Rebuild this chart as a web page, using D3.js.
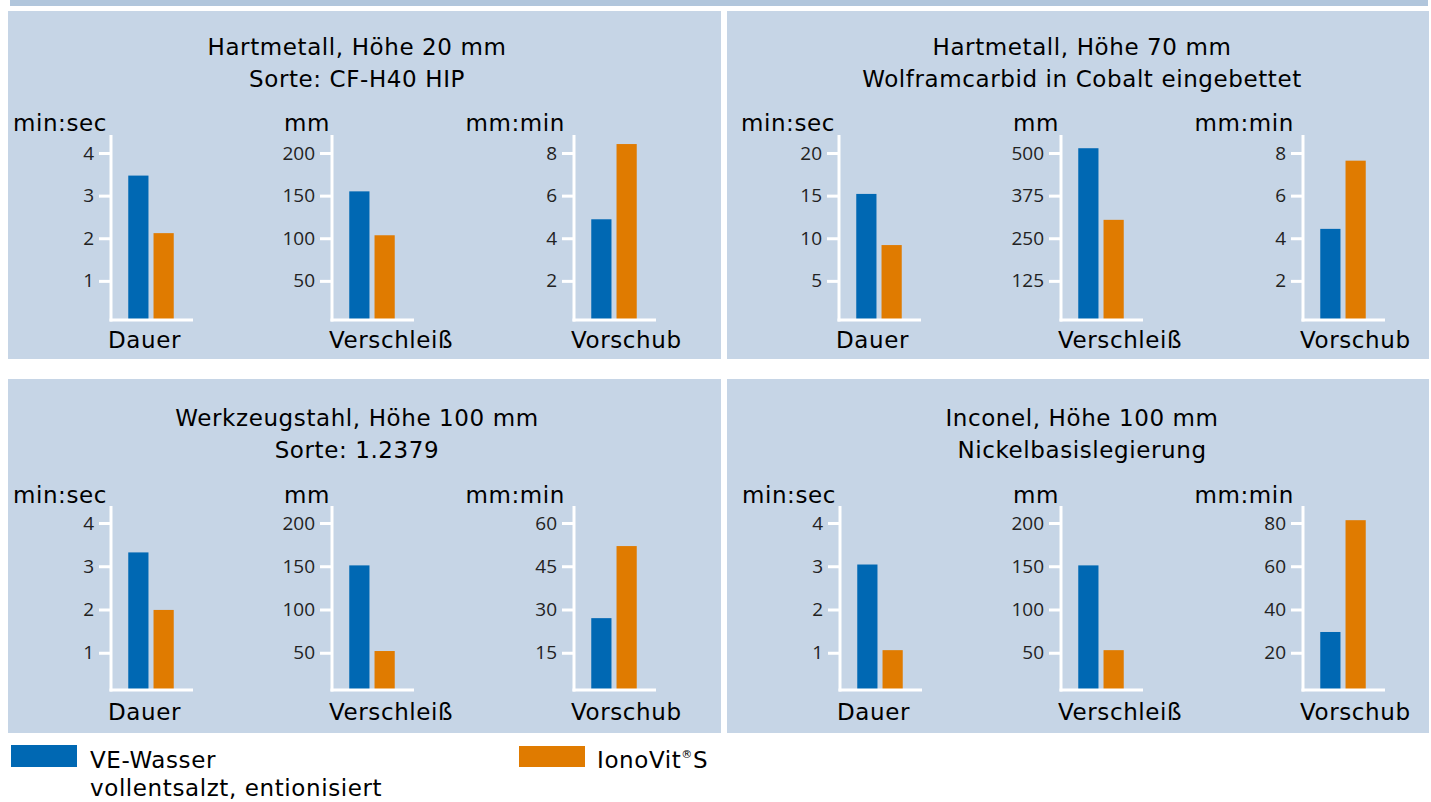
<html>
  <head>
    <meta charset="utf-8">
    <script src="https://d3js.org/d3.v7.min.js"></script>
    <style>
      body { margin: 0; background: #fff; }
      text { font-family: "DejaVu Sans", sans-serif; letter-spacing: 0.6px; }
      .tick text { font-family: "Open Sans", "Noto Sans", sans-serif; letter-spacing: 0; }
    </style>
  </head>
  <body>
    <svg id="vis"></svg>
  </body>
  <script>
    // chart data
    var categories = ["Dauer", "Verschleiß", "Vorschub"]
    var units = ["min:sec", "mm", "mm:min"]
    var panelTitles = [
      ["Hartmetall, Höhe 20 mm", "Sorte: CF-H40 HIP"],
      ["Hartmetall, Höhe 70 mm", "Wolframcarbid in Cobalt eingebettet"],
      ["Werkzeugstahl, Höhe 100 mm", "Sorte: 1.2379"],
      ["Inconel, Höhe 100 mm", "Nickelbasislegierung"]
    ]
    var tickValues = [
      [[1, 2, 3, 4], [50, 100, 150, 200], [2, 4, 6, 8]],
      [[5, 10, 15, 20], [125, 250, 375, 500], [2, 4, 6, 8]],
      [[1, 2, 3, 4], [50, 100, 150, 200], [15, 30, 45, 60]],
      [[1, 2, 3, 4], [50, 100, 150, 200], [20, 40, 60, 80]]
    ]
    var veWasser = [
      [3.47, 155, 4.89],
      [15.2, 514, 4.44],
      [3.32, 151, 27],
      [3.04, 151, 29.6]
    ]
    var ionoVit = [
      [2.12, 103.5, 8.42],
      [9.2, 304, 7.64],
      [1.99, 52, 52],
      [1.06, 53, 81.3]
    ]
    var seriesNames = ["VE-Wasser", "IonoVit"]
    var colors = ["#0068b3", "#e07b00"]

    var width = 1431, height = 802
    var svg = d3.select("#vis").attr("width", width).attr("height", height)

    // top strip
    svg.append("rect").attr("x", 10).attr("y", 0).attr("width", 1418).attr("height", 6).attr("fill", "#b1c6dc")

    // panel layout
    var panels = [
      {x: 8, y: 11, w: 713, h: 348, row: 0, axes: [111, 332, 574], cx: 357},
      {x: 727, y: 11, w: 702, h: 348, row: 0, axes: [839, 1061, 1303], cx: 1082},
      {x: 8, y: 379, w: 713, h: 354, row: 1, axes: [111, 332, 574], cx: 357},
      {x: 727, y: 379, w: 702, h: 354, row: 1, axes: [840, 1061, 1303], cx: 1082}
    ]
    var rows = [
      {title: 55, unit: 131, axisTop: 135, topTick: 153, zero: 323.5, base: 320, cat: 348},
      {title: 426, unit: 503, axisTop: 506, topTick: 523, zero: 696, base: 690, cat: 720}
    ]
    var unitShift = [4, 2, 9]

    panels.forEach(function(p, pi) {
      var r = rows[p.row]
      var g = svg.append("g")
      g.append("rect").attr("x", p.x).attr("y", p.y).attr("width", p.w).attr("height", p.h).attr("fill", "#c6d5e6")

      g.selectAll("text.title").data(panelTitles[pi]).enter()
        .append("text").attr("class", "title")
        .attr("x", p.cx).attr("y", function(d, i){ return r.title + i * 32 })
        .attr("text-anchor", "middle").attr("font-size", 23).attr("fill", "#000")
        .text(function(d){ return d })

      categories.forEach(function(cat, ci) {
        var ax = p.axes[ci]
        var ticks = tickValues[pi][ci]
        var y = d3.scaleLinear().domain([0, ticks[ticks.length - 1]]).range([r.zero, r.topTick])
        var x = d3.scaleBand().domain(seriesNames).range([ax + 16, ax + 64]).paddingInner(0.2).paddingOuter(0.05)

        var c = g.append("g")

        // y axis
        var yAxis = c.append("g")
          .attr("transform", "translate(" + ax + ",0)")
          .call(d3.axisLeft(y).tickValues(ticks).tickSize(12).tickPadding(5).tickFormat(d3.format("d")))
        yAxis.attr("font-family", null)
        yAxis.select(".domain").remove()
        yAxis.selectAll(".tick line").attr("stroke", "#fff").attr("stroke-width", 3)
        yAxis.selectAll(".tick text").attr("font-size", 19).attr("fill", "#222")

        // bars
        var vals = [veWasser[pi][ci], ionoVit[pi][ci]]
        c.selectAll("rect.bar").data(vals).enter()
          .append("rect").attr("class", "bar")
          .attr("x", function(d, i){ return x(seriesNames[i]) })
          .attr("width", x.bandwidth())
          .attr("y", function(d){ return y(d) })
          .attr("height", function(d){ return r.base - y(d) })
          .attr("fill", function(d, i){ return colors[i] })

        // axis lines
        c.append("line").attr("x1", ax).attr("x2", ax).attr("y1", r.axisTop).attr("y2", r.base + 1.5)
          .attr("stroke", "#fff").attr("stroke-width", 3)
        c.append("line").attr("x1", ax - 1.5).attr("x2", ax + 82).attr("y1", r.base).attr("y2", r.base)
          .attr("stroke", "#fff").attr("stroke-width", 3)

        // unit label
        c.append("text").attr("x", ax - unitShift[ci]).attr("y", r.unit)
          .attr("text-anchor", "end").attr("font-size", 23).attr("fill", "#000")
          .text(units[ci])

        // category label
        c.append("text").attr("x", ax - 3).attr("y", r.cat)
          .attr("font-size", 23).attr("fill", "#000")
          .text(cat)
      })
    })

    // legend
    var legend = svg.append("g")
    legend.append("rect").attr("x", 11).attr("y", 745).attr("width", 66).attr("height", 22).attr("fill", colors[0])
    legend.append("text").attr("x", 90).attr("y", 768).attr("font-size", 23).text(seriesNames[0])
    legend.append("text").attr("x", 90).attr("y", 796).attr("font-size", 23).text("vollentsalzt, entionisiert")
    legend.append("rect").attr("x", 519).attr("y", 746).attr("width", 66).attr("height", 21).attr("fill", colors[1])
    var t2 = legend.append("text").attr("x", 597).attr("y", 768).attr("font-size", 23)
    t2.append("tspan").text(seriesNames[1])
    t2.append("tspan").attr("font-size", 11).attr("dy", -10).text("®")
    t2.append("tspan").attr("dy", 10).text("S")
  </script>
</html>
